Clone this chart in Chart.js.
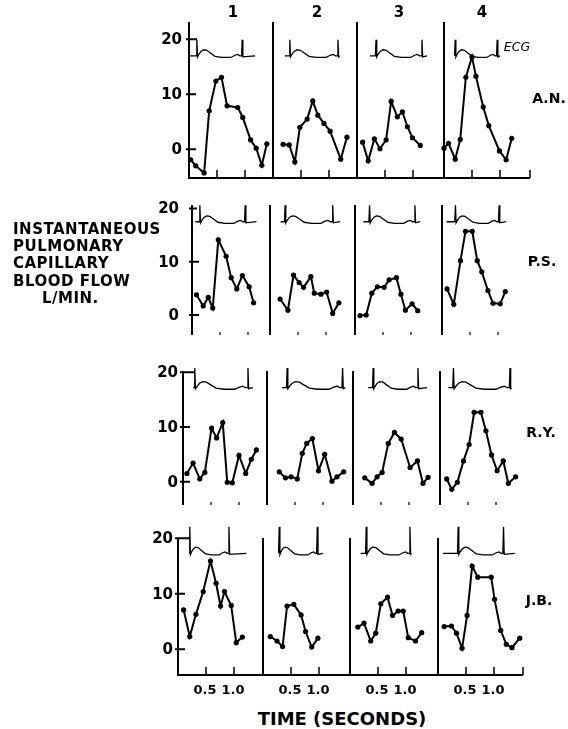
<!DOCTYPE html>
<html>
<head>
<meta charset="utf-8">
<script src="https://cdn.jsdelivr.net/npm/chart.js@4.4.0/dist/chart.umd.min.js"></script>
<style>
  html, body { margin: 0; padding: 0; background: #fff; }
  #page { position: relative; width: 568px; height: 729px; overflow: hidden;
          font-family: "DejaVu Sans", sans-serif; font-weight: bold; color: #000; }
  #page canvas { position: absolute; pointer-events: none; }
  .lbl { position: absolute; white-space: nowrap; line-height: 1; transform: translateY(-50%); }
</style>
</head>
<body>
<div id="page"></div>
<script>
const columns = ['1', '2', '3', '4'];
const subjects = ['A.N.', 'P.S.', 'R.Y.', 'J.B.'];
const flowTicks = [0, 10, 20];
const timeTicks = [0.5, 1.0];
const timeTickLabels = ['0.5', '1.0'];
const yTitle = ['INSTANTANEOUS', 'PULMONARY', 'CAPILLARY', 'BLOOD FLOW', 'L/MIN.'];
const xTitle = 'TIME (SECONDS)';

// time (s) of each reading, one list per beat
const timeAN = [
  [0.03, 0.12, 0.27, 0.36, 0.48, 0.58, 0.68, 0.87, 0.96, 1.10, 1.20, 1.30, 1.39],
  [0.18, 0.29, 0.39, 0.48, 0.61, 0.71, 0.80, 0.91, 1.02, 1.21, 1.32],
  [0.10, 0.20, 0.31, 0.41, 0.52, 0.61, 0.72, 0.81, 0.90, 0.99, 1.13],
  [0.00, 0.08, 0.20, 0.29, 0.39, 0.50, 0.57, 0.70, 0.80, 0.99, 1.11, 1.21]
];
// flow, L/min
const flowAN = [
  [-1.9, -3.0, -4.3, 7.0, 12.4, 13.1, 7.9, 7.6, 5.8, 1.7, 0.2, -2.9, 1.0],
  [0.9, 0.8, -2.3, 4.0, 5.5, 8.8, 6.2, 4.7, 3.3, -1.8, 2.2],
  [1.3, -2.1, 1.9, 0.1, 1.7, 8.7, 5.9, 6.8, 4.1, 2.1, 0.7],
  [0.2, 1.1, -1.8, 1.8, 13.1, 16.8, 13.3, 7.7, 4.3, -0.3, -1.9, 2.0]
];
const timePS = [
  [0.08, 0.20, 0.29, 0.37, 0.47, 0.61, 0.70, 0.80, 0.90, 1.02, 1.10],
  [0.18, 0.32, 0.42, 0.52, 0.60, 0.73, 0.79, 0.91, 1.01, 1.12, 1.23],
  [0.09, 0.20, 0.30, 0.40, 0.52, 0.61, 0.74, 0.82, 0.90, 1.02, 1.12],
  [0.09, 0.21, 0.33, 0.42, 0.54, 0.63, 0.71, 0.82, 0.91, 1.04, 1.13]
];
const flowPS = [
  [3.8, 1.7, 3.3, 1.3, 14.1, 11.0, 7.0, 4.9, 7.4, 5.3, 2.3],
  [3.0, 0.9, 7.5, 6.1, 5.2, 7.2, 4.1, 3.9, 4.3, 0.3, 2.3],
  [-0.1, 0.0, 4.1, 5.3, 5.2, 6.6, 7.0, 3.9, 0.9, 2.1, 0.8],
  [4.9, 2.0, 10.2, 15.7, 15.7, 10.2, 8.1, 4.6, 2.2, 2.1, 4.4]
];
const timeRY = [
  [0.07, 0.18, 0.30, 0.39, 0.51, 0.60, 0.71, 0.79, 0.88, 1.00, 1.12, 1.22, 1.31],
  [0.22, 0.33, 0.43, 0.54, 0.63, 0.71, 0.81, 0.92, 1.03, 1.16, 1.25, 1.37],
  [0.21, 0.34, 0.43, 0.52, 0.63, 0.74, 0.86, 1.02, 1.15, 1.25, 1.34],
  [0.12, 0.21, 0.31, 0.42, 0.52, 0.61, 0.73, 0.82, 0.92, 1.02, 1.13, 1.22, 1.35]
];
const flowRY = [
  [1.5, 3.4, 0.5, 1.7, 9.8, 8.0, 10.8, -0.1, -0.2, 4.8, 1.5, 4.1, 5.8],
  [1.8, 0.7, 0.9, 0.5, 5.2, 7.0, 7.9, 2.0, 5.0, 0.1, 0.9, 1.8],
  [0.7, -0.3, 0.9, 1.7, 7.0, 9.0, 7.8, 2.6, 3.8, -0.3, 0.8],
  [0.5, -1.4, -0.1, 3.8, 6.8, 12.7, 12.7, 9.3, 4.9, 2.0, 3.8, -0.3, 0.9]
];
const timeJB = [
  [0.10, 0.21, 0.32, 0.45, 0.58, 0.68, 0.76, 0.83, 0.95, 1.04, 1.15],
  [0.13, 0.25, 0.35, 0.43, 0.55, 0.68, 0.76, 0.87, 0.98],
  [0.14, 0.25, 0.37, 0.46, 0.55, 0.67, 0.76, 0.86, 0.95, 1.04, 1.17, 1.28],
  [0.11, 0.24, 0.33, 0.43, 0.52, 0.61, 0.71, 0.95, 1.01, 1.12, 1.22, 1.32, 1.46]
];
const flowJB = [
  [7.1, 2.3, 6.3, 10.4, 15.9, 11.9, 7.8, 10.4, 7.9, 1.2, 2.2],
  [2.3, 1.5, 0.5, 7.8, 8.1, 6.2, 3.2, 0.4, 2.0],
  [4.0, 4.7, 1.5, 2.9, 8.2, 9.4, 6.1, 6.9, 6.9, 2.1, 1.5, 3.0],
  [4.1, 4.2, 2.9, 0.2, 6.1, 15.0, 13.0, 13.0, 9.0, 3.4, 0.9, 0.3, 2.0]
];

// ECG trace per beat: [start, first R, second R, end] in seconds
const ecgAN = [[0.02, 0.14, 0.95, 1.18], [0.21, 0.30, 1.16, 1.19], [0.23, 0.34, 1.16, 1.25], [0.20, 0.20, 0.95, 1.00]];
const ecgPS = [[0.06, 0.14, 0.95, 1.15], [0.19, 0.27, 1.12, 1.25], [0.15, 0.26, 1.07, 1.16], [0.08, 0.24, 1.02, 1.14]];
const ecgRY = [[0.18, 0.21, 1.16, 1.25], [0.27, 0.36, 1.35, 1.40], [0.27, 0.36, 1.16, 1.32], [0.15, 0.24, 1.25, 1.28]];
const ecgJB = [[0.21, 0.21, 0.91, 1.22], [0.29, 0.29, 0.97, 1.07], [0.19, 0.29, 1.07, 1.10], [0.09, 0.36, 1.17, 1.37]];
// wave shape between the two R spikes (fraction of R-R, offset from baseline)
const ecgPhase = [0.04, 0.09, 0.15, 0.22, 0.30, 0.40, 0.55, 0.75, 0.84, 0.90, 0.95];
const ecgLevel = [0.2, 0.8, 1.1, 1.0, 0.5, -0.1, -0.3, -0.3, 0.1, 0.25, 0];
const ecgBase = [17.0, 17.5, 17.2, 17.3];
const ecgSpike = [2.9, 3.1, 3.6, 4.8];

const timeBySubject = [timeAN, timePS, timeRY, timeJB];
const flowBySubject = [flowAN, flowPS, flowRY, flowJB];
const ecgBySubject = [ecgAN, ecgPS, ecgRY, ecgJB];

// page layout of each row of panels
const PXS = 56; // pixels per second
const rows = [
  { top: 22, bottom: 178, zeroY: 149.3, ppu: 5.5, divs: [189, 273, 357, 444, 530], frame: true, tick20: 8, gap: 7 },
  { top: 205, bottom: 335, zeroY: 315, ppu: 5.33, divs: [192, 270, 355, 442, 527], frame: false, tick20: 5, gap: 13 },
  { top: 371, bottom: 505, zeroY: 481.7, ppu: 5.47, divs: [183, 267, 353, 440, 527], frame: false, tick20: 11, gap: 5 },
  { top: 538, bottom: 675, zeroY: 649.3, ppu: 5.55, divs: [178, 263, 350, 438, 523], frame: true, tick20: 12, gap: 5 }
];

const page = document.getElementById('page');

function addText(text, x, y, size, align, style) {
  const d = document.createElement('div');
  d.className = 'lbl';
  d.textContent = text;
  d.style.fontSize = size + 'px';
  d.style.top = y + 'px';
  d.style.left = x + 'px';
  if (align === 'center') d.style.transform = 'translate(-50%, -50%)';
  if (style) Object.assign(d.style, style);
  page.appendChild(d);
}

function ecgPoints(beat, base, spike) {
  const [start, r1, r2, end] = beat;
  const rr = r2 - r1;
  const pts = [];
  if (start < r1 - 0.015) pts.push({ x: start, y: base });
  pts.push({ x: r1 - 0.012, y: base }, { x: r1, y: base + spike }, { x: r1 + 0.012, y: base - 0.2 });
  ecgPhase.forEach((p, i) => pts.push({ x: r1 + p * rr, y: base + ecgLevel[i] }));
  pts.push({ x: r2 - 0.012, y: base }, { x: r2, y: base + spike }, { x: r2 + 0.012, y: base - 0.2 });
  if (end > r2 + 0.02) pts.push({ x: end, y: base });
  return pts;
}

const framePlugin = {
  id: 'frame',
  beforeDatasetsDraw(chart, args, opts) {
    const { ctx, chartArea: a, scales: { x, y } } = chart;
    const g = rows[opts.row];
    ctx.save();
    ctx.strokeStyle = '#000';
    ctx.fillStyle = '#000';
    ctx.lineWidth = 2;
    ctx.beginPath();
    ctx.moveTo(a.left, a.top);
    ctx.lineTo(a.left, a.bottom);
    if (g.frame) {
      ctx.moveTo(a.left - 1, a.bottom);
      ctx.lineTo(a.right, a.bottom);
    }
    ctx.stroke();

    // time ticks
    const tl = g.frame ? 8 : 3;
    ctx.lineWidth = g.frame ? 1.5 : 1.2;
    ctx.beginPath();
    timeTicks.forEach(t => {
      const px = x.getPixelForValue(t);
      ctx.moveTo(px, a.bottom);
      ctx.lineTo(px, a.bottom - tl);
    });
    if (g.frame && opts.col === 3) {
      ctx.moveTo(a.right, a.bottom);
      ctx.lineTo(a.right, a.bottom - tl);
    }
    ctx.stroke();

    if (opts.row === 3) {
      ctx.font = 'bold 13px "DejaVu Sans"';
      ctx.textAlign = 'center';
      ctx.textBaseline = 'middle';
      timeTicks.forEach((t, i) => {
        ctx.fillText(timeTickLabels[i], x.getPixelForValue(t) - 1, a.bottom + 16);
      });
    }

    // flow axis on the first panel
    if (opts.col === 0) {
      ctx.lineWidth = 2;
      ctx.beginPath();
      flowTicks.forEach(v => {
        const py = y.getPixelForValue(v);
        ctx.moveTo(a.left - 3, py);
        ctx.lineTo(a.left + (v === 20 ? g.tick20 : 7), py);
      });
      ctx.stroke();
      ctx.font = 'bold 15px "DejaVu Sans"';
      ctx.textAlign = 'right';
      ctx.textBaseline = 'middle';
      flowTicks.forEach(v => {
        ctx.fillText(String(v), a.left - g.gap, y.getPixelForValue(v) + 1);
      });
    }
    ctx.restore();
  }
};

function makePanel(r, c) {
  const g = rows[r];
  const x0 = g.divs[c], x1 = g.divs[c + 1];
  const padL = c === 0 ? 45 : 10;
  const padR = 10, padT = 18;
  const padB = r === 3 ? 28 : 10;
  const w = x1 - x0 + padL + padR;
  const h = g.bottom - g.top + padT + padB;
  const cv = document.createElement('canvas');
  cv.width = w;
  cv.height = h;
  cv.style.left = (x0 - padL) + 'px';
  cv.style.top = (g.top - padT) + 'px';
  cv.style.width = w + 'px';
  cv.style.height = h + 'px';
  page.appendChild(cv);

  const times = timeBySubject[r][c];
  const flows = flowBySubject[r][c];

  new Chart(cv.getContext('2d'), {
    type: 'line',
    data: {
      datasets: [
        {
          data: times.map((t, i) => ({ x: t, y: flows[i] })),
          borderColor: '#000',
          backgroundColor: '#000',
          borderWidth: 2,
          pointRadius: 2.6,
          pointBorderWidth: 0,
          pointBackgroundColor: '#000',
          tension: 0,
          clip: false
        },
        {
          data: ecgPoints(ecgBySubject[r][c], ecgBase[r], ecgSpike[r]),
          borderColor: '#000',
          borderWidth: 1.3,
          pointRadius: 0,
          tension: 0,
          clip: false
        }
      ]
    },
    options: {
      responsive: false,
      animation: false,
      devicePixelRatio: 1,
      layout: { padding: { left: padL, right: padR, top: padT, bottom: padB } },
      scales: {
        x: { type: 'linear', display: false, min: 0, max: (x1 - x0) / PXS },
        y: { display: false, min: (g.zeroY - g.bottom) / g.ppu, max: (g.zeroY - g.top) / g.ppu }
      },
      plugins: {
        legend: { display: false },
        tooltip: { enabled: false },
        frame: { row: r, col: c }
      }
    },
    plugins: [framePlugin]
  });
}

rows.forEach((g, r) => {
  for (let c = 0; c < 4; c++) makePanel(r, c);
});

// text around the panels
const colX = [233, 317, 399, 482];
columns.forEach((t, i) => addText(t, colX[i], 12, 15, 'center'));
const subjPos = [[549, 98], [542, 261], [541, 432], [539, 600]];
subjects.forEach((t, i) => addText(t, subjPos[i][0], subjPos[i][1], 14, 'center'));
const titleY = [229, 246, 263, 281, 298];
yTitle.forEach((t, i) => addText(t, i === 4 ? 42 : 13, titleY[i], 15, 'left', { letterSpacing: '0.5px' }));
addText(xTitle, 342, 719, 18, 'center');
addText('ECG', 517, 47, 12.5, 'center', { fontStyle: 'italic', fontWeight: 'normal' });
</script>
</body>
</html>
